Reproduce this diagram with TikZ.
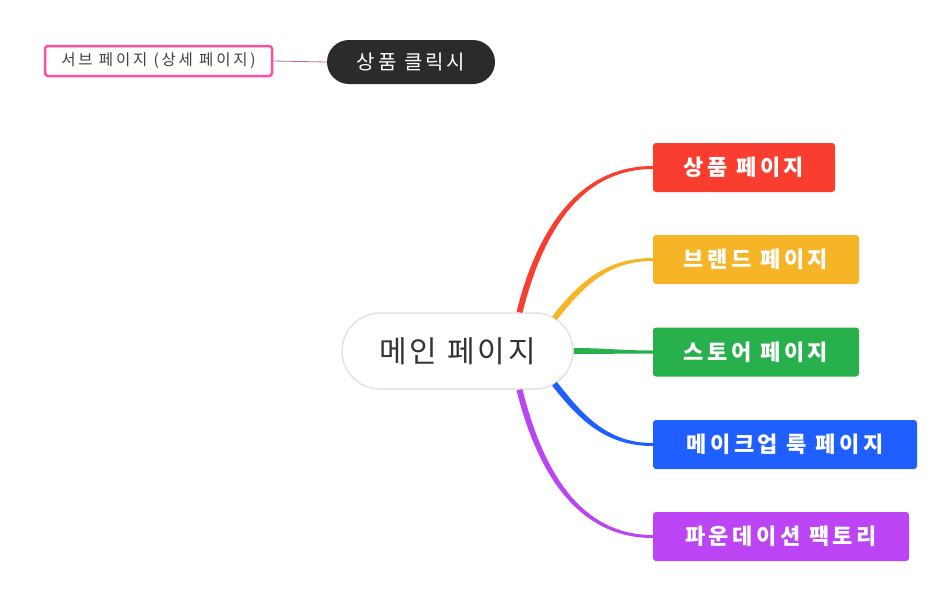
\documentclass[tikz,border=0pt]{standalone}
\usepackage{fontspec}
\setmainfont{Noto Sans CJK KR}
\definecolor{prodred}{HTML}{F93E30}
\definecolor{brandyellow}{HTML}{F6B427}
\definecolor{storegreen}{HTML}{27B04B}
\definecolor{makeupblue}{HTML}{1F5EFF}
\definecolor{foundpurple}{HTML}{BB44F5}
\definecolor{clickdark}{HTML}{2B2B2B}
\definecolor{subpink}{HTML}{FF4FA3}
\begin{document}
\begin{tikzpicture}[x=1pt, y=-1pt]
                \useasboundingbox (0,0) rectangle (937,598);
                \tikzstyle{every node}=[rectangle, inner sep=0pt, text=white, font=\fontsize{22}{26}\selectfont\bfseries\addfontfeature{LetterSpace=16}]
                \tikzstyle{page}=[rounded corners=3pt, minimum height=49pt]

                \node[draw=gray!22, line width=1.5pt, fill=white, rounded corners=38pt, minimum width=231pt, minimum height=76pt, text=black!80, font=\fontsize{30}{34}\selectfont\addfontfeature{LetterSpace=10}] (main) at (457.5,351) {메인 페이지};

                \node[page, fill=prodred, minimum width=182pt] (prod) at (744,167.5) {상품 페이지};
                \node[page, fill=brandyellow, minimum width=206pt] (brand) at (756,259.5) {브랜드 페이지};
                \node[page, fill=storegreen, minimum width=206pt] (store) at (756,352) {스토어 페이지};
                \node[page, fill=makeupblue, minimum width=264pt] (makeup) at (785,444.5) {메이크업 룩 페이지};
                \node[page, fill=foundpurple, minimum width=256pt] (found) at (781,536.5) {파운데이션 팩토리};

                % branch roots on the main node
                \coordinate (prodstart) at ([xshift=62pt]main.north);
                \coordinate (brandstart) at ([xshift=97pt, yshift=-6pt]main.north);
                \coordinate (storestart) at (main.east);
                \coordinate (makeupstart) at ([xshift=97pt, yshift=6pt]main.south);
                \coordinate (foundstart) at ([xshift=62pt]main.south);

                \foreach \n/\c/\o in {prod/prodred/76, brand/brandyellow/52, store/storegreen/0, makeup/makeupblue/-52, found/foundpurple/-76}
                    \fill[\c] ([shift={(\o+90:3pt)}]\n start) to[out=\o, in=180] ([yshift=1.5pt]\n.west) -- ([yshift=-1.5pt]\n.west) to[out=180, in=\o] ([shift={(\o-90:3pt)}]\n start) -- cycle;

                \node[fill=clickdark, rounded corners=22pt, minimum width=168pt, minimum height=44pt, font=\fontsize{20}{24}\selectfont\addfontfeature{LetterSpace=15}] (click) at (411,62) {상품 클릭시};
                \node[draw=subpink, line width=2.5pt, fill=white, rounded corners=3pt, minimum width=227pt, minimum height=30pt, text=black!75, font=\fontsize{15.5}{18}\selectfont\addfontfeature{LetterSpace=18}] (sub) at (158.5,61) {서브 페이지 (상세 페이지)};
                \draw[subpink!50!gray, line width=0.8pt] (sub.east) -- (click.west);
            \end{tikzpicture}
\end{document}
